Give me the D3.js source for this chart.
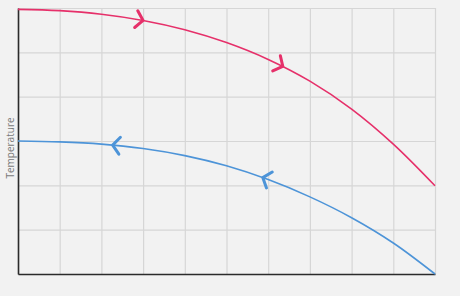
<!DOCTYPE html>
<html>
<head>
<meta charset="utf-8">
<script src="https://cdn.jsdelivr.net/npm/d3@7"></script>
<style>
  body { margin: 0; background: #f2f2f2; }
  svg { display: block; background: #f2f2f2; }
  .grid line { stroke: #d6d6d6; stroke-width: 1.2; }
  .grid .domain { display: none; }
  .axis .domain { stroke: #2b2b2b; stroke-width: 1.6; }
  .label { font-family: "Open Sans", sans-serif; font-size: 10px; fill: #7a7a7a; }
</style>
</head>
<body>
<svg class="chart" width="460" height="296"></svg>
<script>
// values
var xs        = [0, 1, 2, 3, 4, 5, 6, 7, 8, 9, 10];
var redVals   = [5.97, 5.94, 5.86, 5.72, 5.51, 5.22, 4.84, 4.35, 3.72, 2.93, 1.99];
var blueVals  = [3.00, 2.98, 2.93, 2.83, 2.67, 2.44, 2.13, 1.74, 1.27, 0.70, 0.00];
var redArrows  = [3.0, 6.35];   // x of arrows on the upper curve (point right)
var blueArrows = [2.27, 5.87];  // x of arrows on the lower curve (point left)

(function() {
  var margin = {top: 8, right: 25, bottom: 22, left: 18};

  var svg = d3.select(".chart"),
      width  = +svg.attr("width")  - margin.left - margin.right,
      height = +svg.attr("height") - margin.top - margin.bottom;

  var chart = svg.append("g")
    .attr("transform", "translate(" + margin.left + "," + margin.top + ")");

  var xScale = d3.scaleLinear().domain([0, 10]).range([0, width]);
  var yScale = d3.scaleLinear().domain([0, 6]).range([height, 0]);

  // grid
  chart.append("g")
    .attr("class", "grid")
    .attr("transform", "translate(0," + height + ")")
    .call(d3.axisBottom(xScale).ticks(10).tickSize(-height).tickFormat(""));

  chart.append("g")
    .attr("class", "grid")
    .call(d3.axisLeft(yScale).ticks(6).tickSize(-width).tickFormat(""));

  // axes
  chart.append("g")
    .attr("class", "axis")
    .attr("transform", "translate(0," + height + ")")
    .call(d3.axisBottom(xScale).tickValues([]).tickSizeOuter(0));

  chart.append("g")
    .attr("class", "axis")
    .call(d3.axisLeft(yScale).tickValues([]).tickSizeOuter(0));

  var line = d3.line()
    .x(function(d) { return xScale(d[0]); })
    .y(function(d) { return yScale(d[1]); })
    .curve(d3.curveCatmullRom);

  function drawSeries(vals, color, arrowXs, flip) {
    var path = chart.append("path")
      .datum(xs.map(function(x, i) { return [x, vals[i]]; }))
      .attr("fill", "none")
      .attr("stroke", color)
      .attr("stroke-width", 1.6)
      .attr("d", line);

    var node = path.node(),
        total = node.getTotalLength();

    arrowXs.forEach(function(ax) {
      var px = xScale(ax), lo = 0, hi = total;
      for (var k = 0; k < 40; k++) {
        var mid = (lo + hi) / 2;
        if (node.getPointAtLength(mid).x < px) lo = mid; else hi = mid;
      }
      var p  = node.getPointAtLength(lo),
          p0 = node.getPointAtLength(Math.max(0, lo - 2)),
          p1 = node.getPointAtLength(Math.min(total, lo + 2));
      var angle = Math.atan2(p1.y - p0.y, p1.x - p0.x) * 180 / Math.PI;
      if (flip) angle += 180;

      chart.append("path")
        .attr("d", "M-7,-8.5L0,0L-7,8.5")
        .attr("fill", "none")
        .attr("stroke", color)
        .attr("stroke-width", 3)
        .attr("stroke-linecap", "round")
        .attr("stroke-linejoin", "round")
        .attr("transform", "translate(" + p.x + "," + p.y + ") rotate(" + angle + ")");
    });
  }

  drawSeries(redVals, "#e6306a", redArrows, false);
  drawSeries(blueVals, "#4d94d8", blueArrows, true);

  svg.append("text")
    .attr("class", "label")
    .attr("transform", "translate(14,148) rotate(-90)")
    .style("text-anchor", "middle")
    .text("Temperature");
})();
</script>
</body>
</html>
